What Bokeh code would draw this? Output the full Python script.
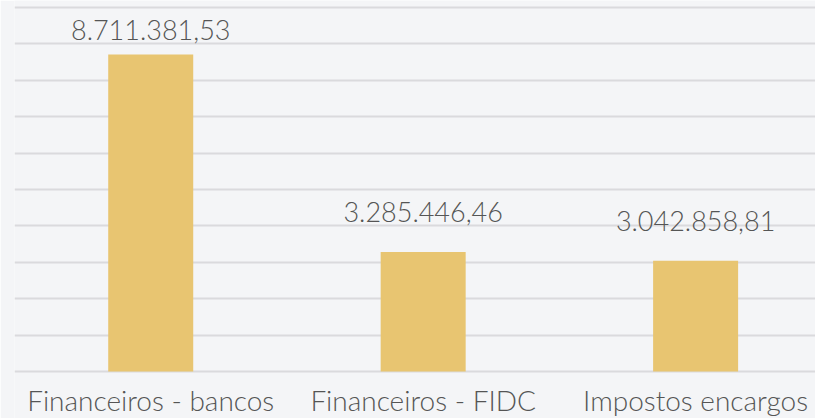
from bokeh.plotting import figure
from bokeh.models import Range1d, FixedTicker, Grid
from bokeh.core.properties import value
from bokeh.embed import file_html
from bokeh.resources import INLINE

# ---- data ----
categories = ["Financeiros - bancos", "Financeiros - FIDC", "Impostos encargos"]
values = [8711381.53, 3285446.46, 3042858.81]
value_labels = ["8.711.381,53", "3.285.446,46", "3.042.858,81"]
grid_ticks = [0, 1e6, 2e6, 3e6, 4e6, 5e6, 6e6, 7e6, 8e6, 9e6, 10e6]

# ---- styling ----
BG = "#f4f5f7"
BAR = "#e8c571"
GRID = "#dadadd"
TEXT = "#555555"
FONT = value("Lato Light")

Y_MIN, Y_MAX = -1.291e6, 10.192e6
LABEL_CAP = 8.27e6  # keep top label inside the plot area

x = list(range(len(categories)))
label_y = [min(v, LABEL_CAP) for v in values]

p = figure(
    width=815, height=418,
    x_range=Range1d(-0.5, 2.44), y_range=Range1d(Y_MIN, Y_MAX),
    output_backend="svg", toolbar_location=None,
    x_axis_location=None, y_axis_location=None,
    min_border_left=14, min_border_right=0, min_border_top=0, min_border_bottom=0,
    background_fill_color=BG, border_fill_color=BG, outline_line_color=None,
)

p.center = [r for r in p.center if not isinstance(r, Grid)]
p.add_layout(Grid(dimension=1, ticker=FixedTicker(ticks=grid_ticks),
                  grid_line_color=GRID, grid_line_width=2))

p.vbar(x=x, top=values, bottom=0, width=0.312, fill_color=BAR, line_color=None)

p.text(x=x, y=label_y, text=value_labels, text_align="center",
       text_baseline="alphabetic", y_offset=-40, text_font=FONT,
       text_font_size="27px", text_color=TEXT)

p.text(x=x, y=[0] * len(x), text=categories, text_align="center",
       text_baseline="alphabetic", y_offset=28, text_font=FONT,
       text_font_size="28px", text_color=TEXT)

open("out.html", "w").write(file_html(p, INLINE))
